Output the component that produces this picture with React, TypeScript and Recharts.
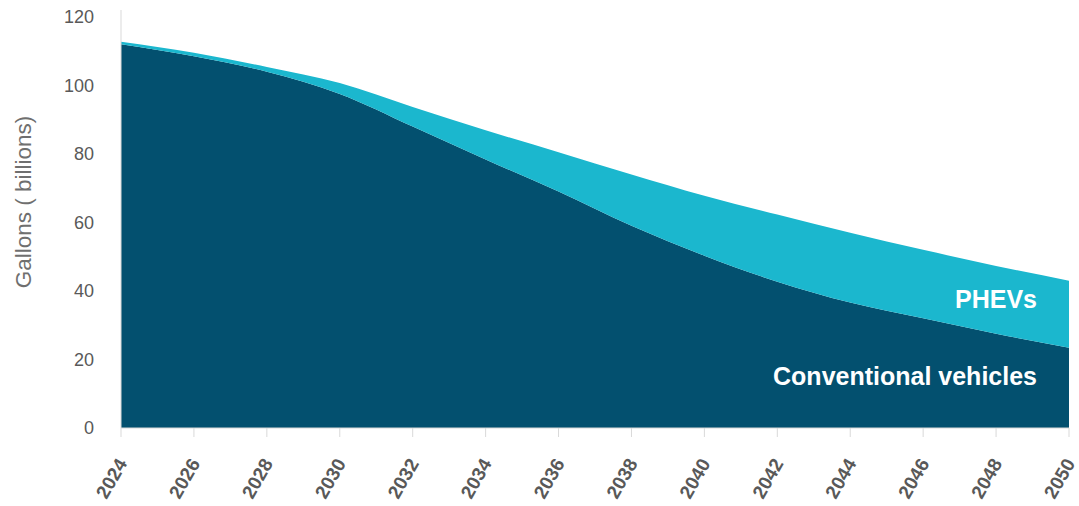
import {
  Area,
  AreaChart,
  Label,
  ReferenceDot,
  XAxis,
  YAxis,
} from 'recharts'

const YEARS = [2024, 2026, 2028, 2030, 2032, 2034, 2036, 2038, 2040, 2042, 2044, 2046, 2048, 2050]

// billions of gallons
const CONVENTIONAL = [112, 108.5, 104, 97.5, 88, 78.4, 69, 59, 50.3, 42.7, 36.6, 32, 27.5, 23.4]
const PHEVS        = [0.7, 1.0, 1.4, 3.2, 5.7, 8.5, 11.5, 15, 17.5, 19.6, 20.4, 20, 19.8, 19.6]

const Y_TICKS = [0, 20, 40, 60, 80, 100, 120]

const colorConv  = '#03506f'
const colorPhev  = '#1bb7ce'
const colorAxis  = '#d9d9d9'
const colorText  = '#595959'
const font = "'Liberation Sans', Arial, sans-serif"

const rows = YEARS.map((year, i) => ({
  year,
  conventional: CONVENTIONAL[i],
  phev: PHEVS[i],
}))

function YearTick({ x, y, payload }: any) {
  return (
    <g transform={`translate(${x + 1},${y + 21})`}>
      <text
        x={0}
        y={0}
        dy="0.35em"
        textAnchor="end"
        transform="rotate(-60)"
        fill={colorText}
        fontSize={19}
        fontWeight="bold"
        fontFamily={font}
      >
        {payload.value}
      </text>
    </g>
  )
}

export default function App() {
  return (
    <div style={{ position: 'absolute', left: 0, top: 0, width: 1079, height: 506, background: '#fff' }}>
      <AreaChart
        width={1079}
        height={506}
        data={rows}
        margin={{ top: 10, right: 10, left: 0, bottom: 0 }}
      >
        <XAxis
          dataKey="year"
          type="number"
          domain={[2024, 2050]}
          ticks={YEARS}
          interval={0}
          height={78}
          tick={<YearTick />}
          tickSize={9}
          tickLine={{ stroke: colorAxis }}
          axisLine={{ stroke: colorAxis }}
        />
        <YAxis
          domain={[0, 122]}
          ticks={Y_TICKS}
          width={121}
          tickSize={0}
          tickMargin={27}
          tickLine={false}
          axisLine={{ stroke: colorAxis }}
          tick={{ fill: colorText, fontSize: 18, fontFamily: font }}
        >
          <Label
            content={() => (
              <text
                x={23}
                y={202}
                transform="rotate(-90, 23, 202)"
                textAnchor="middle"
                dominantBaseline="central"
                fill="#6f6f6f"
                fontSize={22.5}
                fontFamily={font}
              >
                Gallons ( billions)
              </text>
            )}
          />
        </YAxis>

        <Area
          type="monotone"
          dataKey="conventional"
          stackId="fuel"
          stroke="none"
          fill={colorConv}
          fillOpacity={1}
          isAnimationActive={false}
        />
        <Area
          type="monotone"
          dataKey="phev"
          stackId="fuel"
          stroke="none"
          fill={colorPhev}
          fillOpacity={1}
          isAnimationActive={false}
        />

        {/* in-chart series labels */}
        <ReferenceDot x={2050} y={37.5} r={1} fill="none" stroke="none">
          <Label
            value="PHEVs"
            position="left"
            offset={31}
            fill="#ffffff"
            fontSize={25}
            fontWeight="bold"
            fontFamily={font}
          />
        </ReferenceDot>
        <ReferenceDot x={2050} y={15} r={1} fill="none" stroke="none">
          <Label
            value="Conventional vehicles"
            position="left"
            offset={31}
            fill="#ffffff"
            fontSize={25}
            fontWeight="bold"
            fontFamily={font}
          />
        </ReferenceDot>
      </AreaChart>
    </div>
  )
}
